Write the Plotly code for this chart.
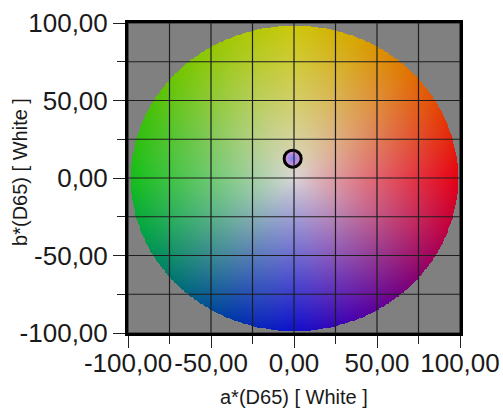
import numpy as np
import plotly.graph_objects as go

# Measured sample in CIELAB a*/b* plane
sample_a = [-0.8]
sample_b = [12.5]

# Axis ticks
tick_vals = [-100, -50, 0, 50, 100]
tick_text = ["-100,00", "-50,00", "0,00", "50,00", "100,00"]
minor_vals = [-75, -25, 25, 75]
grid_vals = [-100, -75, -50, -25, 0, 25, 50, 75, 100]

# Hue wheel for the a*b* background disk: edge colour every 22.5 degrees
hue_angles = np.arange(0, 360, 22.5)
hue_rgb = np.array([
    (230, 0, 20), (228, 55, 5), (225, 115, 0), (215, 165, 0),
    (205, 200, 10), (165, 200, 5), (115, 198, 0), (60, 192, 10),
    (20, 190, 25), (0, 160, 70), (0, 110, 120), (0, 55, 170),
    (15, 15, 205), (75, 0, 170), (125, 0, 120), (185, 0, 70),
], dtype=float)
center_rgb = np.array([218, 214, 216], dtype=float)
disk_radius = 98.5

step = 0.5
coords = np.arange(-100, 100 + step / 2, step)
A, B = np.meshgrid(coords, coords)
R = np.hypot(A, B)
H = np.degrees(np.arctan2(B, A)) % 360

# interpolate edge colour around the hue circle, then blend towards the neutral centre
pos = H / 22.5
i0 = np.floor(pos).astype(int) % len(hue_angles)
i1 = (i0 + 1) % len(hue_angles)
f = (pos - np.floor(pos))[..., None]
edge = hue_rgb[i0] * (1 - f) + hue_rgb[i1] * f
t = (np.clip(R / disk_radius, 0, 1) ** 0.9)[..., None]
rgb = center_rgb * (1 - t) + edge * t
alpha = (R <= disk_radius).astype(float)[..., None]
rgba = np.concatenate([rgb, alpha], axis=-1)

fig = go.Figure()

fig.add_trace(go.Image(
    z=rgba, colormodel="rgba", zmin=[0, 0, 0, 0], zmax=[255, 255, 255, 1],
    x0=-100, dx=step, y0=-100, dy=step, hoverinfo="skip",
))

fig.add_trace(go.Scatter(
    x=sample_a, y=sample_b, mode="markers",
    marker=dict(
        size=17, color="rgb(230,150,210)",
        gradient=dict(type="radial", color="rgb(115,130,250)"),
        line=dict(color="black", width=3),
    ),
    showlegend=False,
))

# grid lines drawn over the colour disk
grid_shapes = []
for v in grid_vals:
    grid_shapes.append(dict(type="line", xref="x", yref="y", x0=v, x1=v,
                            y0=-100, y1=100, layer="above",
                            line=dict(color="#1e1e1e", width=1.2)))
    grid_shapes.append(dict(type="line", xref="x", yref="y", x0=-100, x1=100,
                            y0=v, y1=v, layer="above",
                            line=dict(color="#1e1e1e", width=1.2)))

font_family = "Liberation Sans, Arial, sans-serif"

axis_common = dict(
    range=[-100, 100], tickmode="array", tickvals=tick_vals, ticktext=tick_text,
    ticks="outside", ticklen=12, tickwidth=1.2, tickcolor="#222",
    showgrid=False, zeroline=False, automargin=False, tickangle=0,
    showline=True, linecolor="black", linewidth=3, mirror=True,
    layer="above traces",
    tickfont=dict(family=font_family, size=26, color="#1a1a1a"),
    minor=dict(tickmode="array", tickvals=minor_vals, ticks="outside",
               ticklen=8, tickwidth=1.2, tickcolor="#222", showgrid=False),
)

fig.update_layout(
    width=503, height=410,
    margin=dict(l=128, r=43, t=23, b=77),
    paper_bgcolor="white", plot_bgcolor="rgb(128,128,128)",
    xaxis=dict(**axis_common, ticklabelstandoff=-7),
    yaxis=dict(**axis_common, scaleanchor=False, autorange=False),
    shapes=grid_shapes,
    showlegend=False,
    annotations=[
        dict(text="a*(D65) [ White ]", xref="paper", yref="paper", x=0.5, y=-0.206,
             xanchor="center", yanchor="middle", showarrow=False,
             font=dict(family=font_family, size=20, color="#1a1a1a")),
        dict(text="b*(D65) [ White ]", xref="paper", yref="paper", x=-0.325, y=0.52,
             xanchor="center", yanchor="middle", textangle=-90, showarrow=False,
             font=dict(family=font_family, size=20, color="#1a1a1a")),
    ],
)

fig.write_html("out.html")
